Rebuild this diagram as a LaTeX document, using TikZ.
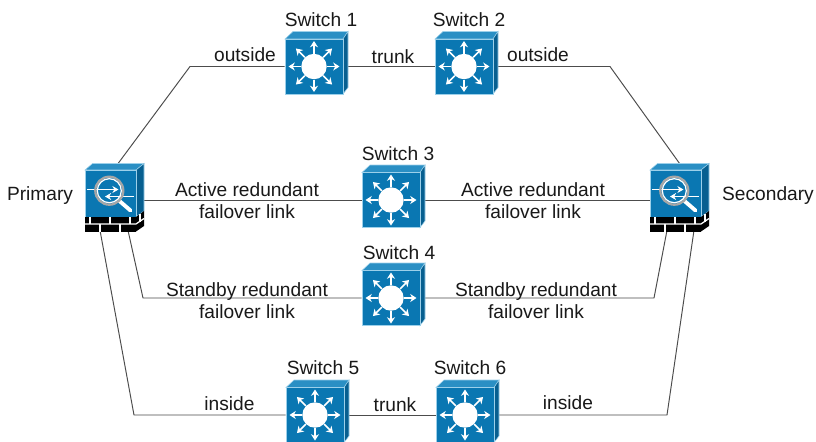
\documentclass[tikz,border=0pt]{standalone}
\usepackage{fontspec}
\setmainfont{Liberation Sans}
\usetikzlibrary{arrows.meta}
\definecolor{faceblue}{HTML}{0A77B2}
\definecolor{topblue}{HTML}{2A8FC4}
\definecolor{sideblue}{HTML}{075F90}
\definecolor{edgeblue}{HTML}{9CD0EA}
\tikzset{
    link/.style={draw=black!70, line width=0.55pt},
    switchbox/.style={rectangle, inner sep=0pt, minimum width=1.16cm, minimum height=1.1cm},
    fwbox/.style={rectangle, inner sep=0pt, minimum width=1.02cm, minimum height=1.2cm},
    txt/.style={font=\fontsize{10.9}{12.6}\selectfont, align=center, inner sep=0pt, text=black!90},
    pics/switchicon/.style={code={
        \filldraw[topblue, draw=edgeblue, line width=0.3pt] (-29,-27.5) -- (-21,-35) -- (34,-35) -- (29,-27.5) -- cycle;
        \filldraw[sideblue, draw=edgeblue, line width=0.3pt] (29,-27.5) -- (34,-35) -- (34,21) -- (29,27.5) -- cycle;
        \filldraw[faceblue, draw=edgeblue, line width=0.3pt] (-29,-27.5) rectangle (29,27.5);
        % Arrows around the hub
        \foreach \a in {0,45,...,315}
            \draw[white, line width=0.9pt, -{Stealth[length=3.6pt,width=4.6pt]}] (\a:13) -- (\a:25.5);
        \fill[white] (0,0) circle (12.7);
    }},
    pics/firewallicon/.style={code={
        \filldraw[topblue, draw=edgeblue, line width=0.3pt] (-25.5,-30) -- (-18,-36.5) -- (33.5,-36.5) -- (25.5,-30) -- cycle;
        \filldraw[sideblue, draw=edgeblue, line width=0.3pt] (25.5,-30) -- (33.5,-36.5) -- (33.5,11) -- (25.5,17) -- cycle;
        \filldraw[faceblue, draw=edgeblue, line width=0.3pt] (-25.5,-30) rectangle (25.5,17);
        % Bricks
        \fill[black] (-25.5,17) rectangle (25.5,31.5);
        \fill[black] (25.5,17) -- (33.5,11) -- (33.5,26) -- (25.5,31.5) -- cycle;
        \draw[white, line width=0.7pt] (-25.5,24) -- (25.5,24) -- (33.5,18.5);
        \foreach \t in {-20.5,-0.5,19.5} \draw[white, line width=0.7pt] (\t,17) -- (\t,24);
        \foreach \t in {-10.5,9.5} \draw[white, line width=0.7pt] (\t,24) -- (\t,31.5);
        \draw[white, line width=0.7pt] (29.5,14) -- (29.5,21.5);
        % Lens
        \draw[white, line width=2.2pt, line cap=round] (9,1) -- (20,10.5);
        \draw[white, line width=0.7pt, -{Stealth[length=3.5pt,width=4pt]}] (-23.5,-10.5) -- (8,-10.5);
        \draw[white, line width=0.7pt, -{Stealth[length=3.5pt,width=4pt]}] (23,-3.5) -- (-5.5,-3.5);
        \draw[black!35, line width=1.3pt] (-1.2,-9.3) circle (14);
        \draw[white, line width=0.7pt] (-1.2,-9.3) circle (12);
    }}
}
\begin{document}
\begin{tikzpicture}[x=0.02cm, y=-0.02cm]
    \clip (0,0) rectangle (816,441);
    \fill[white] (0,0) rectangle (816,441);

    % Devices
    \node[fwbox] (primary) at (110.5,200) {};
    \node[fwbox] (secondary) at (675.5,200) {};
    \node[switchbox] (s1) at (314,66.5) {};
    \node[switchbox] (s2) at (464,66.5) {};
    \node[switchbox] (s3) at (391,200) {};
    \node[switchbox] (s4) at (391,298) {};
    \node[switchbox] (s5) at (315,415) {};
    \node[switchbox] (s6) at (465,415) {};

    % Bends
    \coordinate (outL) at (190,66.5);
    \coordinate (outR) at (610,66.5);
    \coordinate (stbyL) at (143,298);
    \coordinate (stbyR) at (654,298);
    \coordinate (inL) at (134,415);
    \coordinate (inR) at (667,415);

    % Links
    \draw[link] ([xshift=0.06cm]primary.north) -- (outL) -- (s1.west);
    \draw[link] (s1) -- (s2);
    \draw[link] (s2.east) -- (outR) -- ([xshift=0.17cm]secondary.north);
    \draw[link] (primary) -- (s3);
    \draw[link] (s3) -- (secondary);
    \draw[link] ([xshift=0.35cm]primary.south) -- (stbyL) -- (s4.west);
    \draw[link] (s4.east) -- (stbyR) -- ([xshift=-0.17cm]secondary.south);
    \draw[link] ([xshift=-0.21cm]primary.south) -- (inL) -- (s5.west);
    \draw[link] (s5) -- (s6);
    \draw[link] (s6.east) -- (inR) -- ([xshift=0.37cm]secondary.south);

    % Icons
    \foreach \n in {s1,s2,s3,s4,s5,s6} \pic at (\n) {switchicon};
    \foreach \n in {primary,secondary} \pic at (\n) {firewallicon};

    % Names
    \node[txt] (t1) at (321,20) {Switch 1};
    \node[txt] (t2) at (469,20) {Switch 2};
    \node[txt] (t3) at (398,154) {Switch 3};
    \node[txt] (t4) at (399,253) {Switch 4};
    \node[txt] (t5) at (323,368) {Switch 5};
    \node[txt] (t6) at (470,368) {Switch 6};
    \node[txt] (tp) at (40,196) {Primary};
    \node[txt] (ts) at (768,196) {Secondary};

    % Labels
    \node[txt] (l1) at (245,54.5) {outside};
    \node[txt] (l2) at (393,57) {trunk};
    \node[txt] (l3) at (538,54.5) {outside};
    \node[txt] (l4) at (247,201) {Active redundant\\failover link};
    \node[txt] (l5) at (533,201) {Active redundant\\failover link};
    \node[txt] (l6) at (247,301) {Standby redundant\\failover link};
    \node[txt] (l7) at (536,301) {Standby redundant\\failover link};
    \node[txt] (l8) at (229.5,403.5) {inside};
    \node[txt] (l9) at (395,405) {trunk};
    \node[txt] (l10) at (568,403) {inside};
\end{tikzpicture}
\end{document}
